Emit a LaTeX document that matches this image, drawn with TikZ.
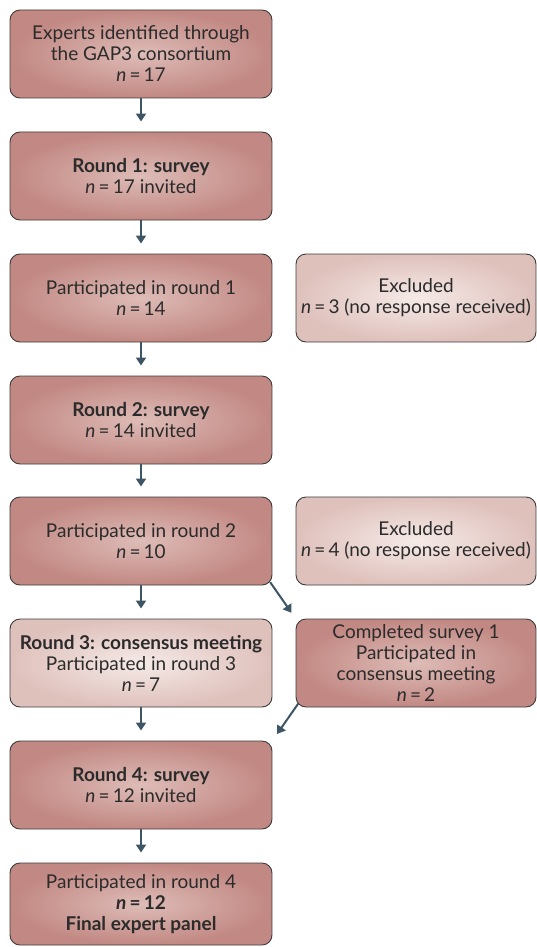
\documentclass[tikz,border=0pt]{standalone}
\usepackage{fontspec}
\setmainfont{Lato}
\usetikzlibrary{arrows.meta}
\definecolor{darkin}{HTML}{DEBCB7}
\definecolor{darkout}{HTML}{C28883}
\definecolor{lightin}{HTML}{F5EAE7}
\definecolor{lightout}{HTML}{DFC1BC}
\definecolor{bordc}{HTML}{3C3C3C}
\definecolor{arrc}{HTML}{3E5566}
\definecolor{txtc}{HTML}{2B2B2B}
\tikzset{
  basebox/.style={draw=bordc, line width=0.9pt, rounded corners=10pt, align=center,
    text=txtc, font=\fontsize{19}{21}\selectfont, inner sep=0pt},
  darkbox/.style={basebox, inner color=darkin, outer color=darkout,
    minimum width=262pt, minimum height=88pt},
  lightbox/.style={basebox, inner color=lightin, outer color=lightout,
    minimum width=262pt, minimum height=88pt},
  rdark/.style={darkbox, minimum width=240pt},
  rlight/.style={lightbox, minimum width=240pt},
  arr/.style={draw=arrc, line width=2pt, -{Triangle[length=8pt,width=10pt]}},
}
\newcommand{\nn}{\textit{n}\,=\,}
\begin{document}
\begin{tikzpicture}[x=1pt,y=-1pt]
\useasboundingbox (0,0) rectangle (537,947);
\node[darkbox] (e) at (141,54) {Experts identified through\\the GAP3 consortium\\\nn17};
\node[darkbox] (r1) at (141,176) {\textbf{Round 1: survey}\\\nn17 invited};
\node[darkbox] (p1) at (141,298) {Participated in round 1\\\nn14};
\node[rlight] (x1) at (416,298) {Excluded\\\nn3 (no response received)};
\node[darkbox] (r2) at (141,420) {\textbf{Round 2: survey}\\\nn14 invited};
\node[darkbox] (p2) at (141,541) {Participated in round 2\\\nn10};
\node[rlight] (x2) at (416,541) {Excluded\\\nn4 (no response received)};
\node[lightbox] (r3) at (141,663) {\textbf{Round 3: consensus meeting}\\Participated in round 3\\\nn7};
\node[rdark] (c) at (416,663) {Completed survey 1\\Participated in\\consensus meeting\\\nn2};
\node[darkbox] (r4) at (141,785) {\textbf{Round 4: survey}\\\nn12 invited};
\node[darkbox, minimum height=82pt] (p4) at (141,904) {Participated in round 4\\\textbf{\textit{n}\,=\,12}\\\textbf{Final expert panel}};
\draw[arr, shorten >=10pt] (e) -- (r1);
\draw[arr, shorten >=10pt] (r1) -- (p1);
\draw[arr, shorten >=10pt] (p1) -- (r2);
\draw[arr, shorten >=10pt] (r2) -- (p2);
\draw[arr, shorten >=10pt] (p2) -- (r3);
\draw[arr, shorten >=10pt] (r3) -- (r4);
\draw[arr, shorten >=10pt] (r4) -- (p4);
\draw[arr, shorten <=-4pt, shorten >=7pt] (p2.south east) -- (c.north west);
\draw[arr, shorten <=-5pt, shorten >=8pt] (c.south west) -- (r4.north east);
\end{tikzpicture}
\end{document}
